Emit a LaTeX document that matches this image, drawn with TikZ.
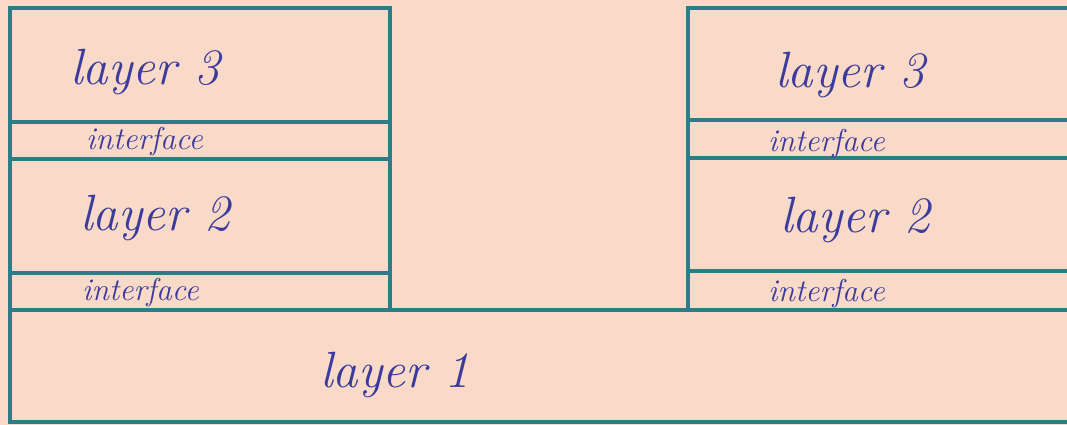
\documentclass[tikz,border=0pt]{standalone}
\usepackage{tikz}
\definecolor{paper}{HTML}{F9D9C7}
\definecolor{ink}{HTML}{2E7C88}
\definecolor{pen}{HTML}{3B3B9E}
\tikzset{
  slab/.style={
    draw=ink,
    line width=1.8pt,
    anchor=north west,
    inner sep=0pt,
    outer sep=0pt
  },
  layerbox/.style={slab, minimum height=2.28cm},
  gluebox/.style={slab, minimum height=0.75cm},
  layertext/.style={text=pen, anchor=west, font=\fontsize{29}{34}\selectfont\itshape},
  gluetext/.style={text=pen, anchor=west, font=\fontsize{18}{21}\selectfont\itshape}
}

\begin{document}
\begin{tikzpicture}[x=0.02cm, y=-0.02cm]
  \useasboundingbox[fill=paper] (0,0) rectangle (1067,425);
  \clip (0,0) rectangle (1067,425);

  % left stack
  \node[layerbox, minimum width=7.6cm] (topleft) at (10,8) {};
  \node[gluebox, minimum width=7.6cm] (upperglueleft) at (10,122) {};
  \node[layerbox, minimum width=7.6cm] (midleft) at (10,159) {};
  \node[gluebox, minimum width=7.6cm] (lowerglueleft) at (10,273) {};

  % right stack
  \node[layerbox, minimum width=7.84cm, minimum height=2.24cm] (topright) at (688,8) {};
  \node[gluebox, minimum width=7.84cm] (uppergluerigt) at (688,120) {};
  \node[layerbox, minimum width=7.84cm, minimum height=2.26cm] (midright) at (688,158) {};
  \node[gluebox, minimum width=7.84cm, minimum height=0.78cm] (lowergluerigt) at (688,271) {};

  % base
  \node[slab, minimum width=21.4cm, minimum height=2.24cm] (base) at (10,310) {};

  \node[layertext] (topleftlabel) at (64,72) {layer 3};
  \node[gluetext] (upperglueleftlabel) at (80,142) {interface};
  \node[layertext] (midleftlabel) at (74,218) {layer 2};
  \node[gluetext] (lowerglueleftlabel) at (76,293) {interface};

  \node[layertext] (toprightlabel) at (769,75) {layer 3};
  \node[gluetext] (uppergluerigtlabel) at (762,144) {interface};
  \node[layertext] (midrightlabel) at (774,220) {layer 2};
  \node[gluetext] (lowergluerigtlabel) at (762,294) {interface};

  \node[layertext] (baselabel) at (314,375) {layer 1};
\end{tikzpicture}
\end{document}
